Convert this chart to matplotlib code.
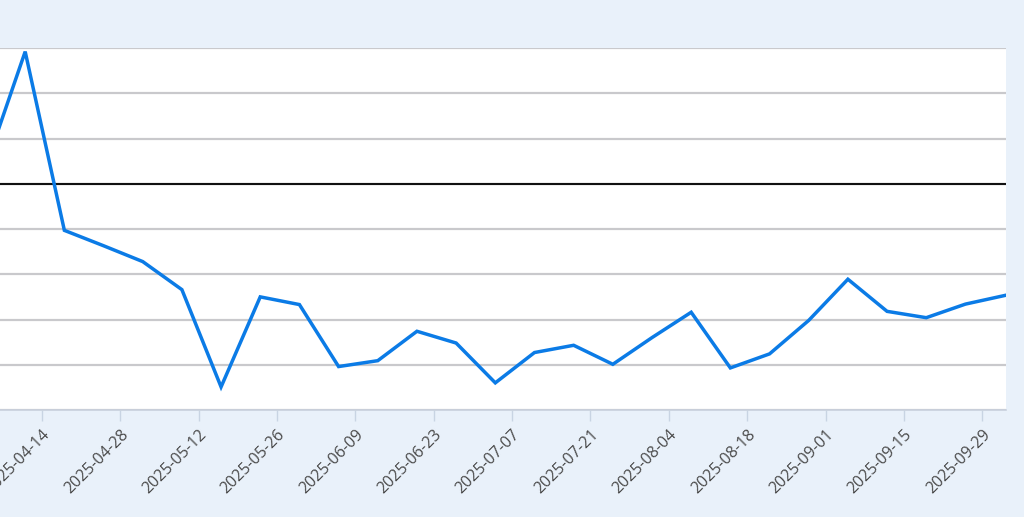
import numpy as np
import pandas as pd
import matplotlib
matplotlib.use("Agg")
import matplotlib.pyplot as plt

# weekly values
dates = pd.date_range("2025-04-04", "2025-10-03", freq="7D")
values = [0.40, 2.92, -1.03, -1.37, -1.72, -2.34, -4.49, -2.50, -2.67, -4.04,
          -3.91, -3.26, -3.52, -4.40, -3.73, -3.57, -3.99, -3.40, -2.84, -4.07,
          -3.76, -3.02, -2.11, -2.82, -2.96, -2.66, -2.47]
tick_dates = pd.date_range("2025-04-14", "2025-09-29", freq="14D")
tick_labels = [d.strftime("%Y-%m-%d") for d in tick_dates]

bg = "#e9f1fa"
fig = plt.figure(figsize=(10.24, 5.17), dpi=100, facecolor=bg)
ax = fig.add_axes([0.0, 1 - 410 / 517, 1006 / 1024, (410 - 48) / 517])
ax.set_facecolor("white")

ax.plot(dates, values, color="#0b7be6", lw=2.5, zorder=3, solid_joinstyle="miter")
ax.axhline(0, color="#111111", lw=1.5, zorder=2)

ax.set_ylim(-5, 3)
ax.set_yticks(np.arange(-5, 4, 1))
ax.yaxis.grid(True, color="#c9c9cc", lw=1.6)
ax.tick_params(axis="y", left=False, labelleft=False)

left = pd.Timestamp("2025-04-14") - pd.Timedelta(days=7.5)
right = pd.Timestamp("2025-10-03") + pd.Timedelta(hours=6)
ax.set_xlim(left, right)
ax.set_xticks(tick_dates)
ax.set_xticklabels(tick_labels, rotation=45, ha="right", rotation_mode="anchor",
                   fontfamily="Open Sans", fontsize=11.5, color="#4a4a4a")
ax.tick_params(axis="x", length=8, width=1, color="#c8d4e3", pad=4)

for s in ["top", "left", "right"]:
    ax.spines[s].set_visible(False)
ax.spines["bottom"].set_color("#c8d0dc")
ax.spines["bottom"].set_linewidth(1.2)

fig.savefig("out.png", dpi=100, facecolor=bg)
